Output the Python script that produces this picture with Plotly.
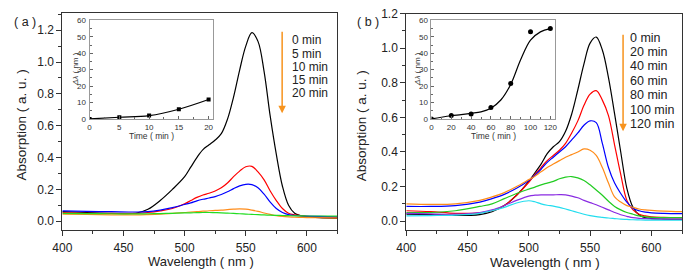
import plotly.graph_objects as go

W, H = 685, 275

# ---------------- data ----------------
wl_a = [400, 420, 440, 460, 470, 480, 490, 500, 505, 510, 515, 520, 525, 530, 535,
        540, 545, 550, 555, 560, 565, 570, 575, 580, 585, 590, 595, 600, 610, 625]
a_0min = [0.060, 0.055, 0.050, 0.050, 0.075, 0.13, 0.20, 0.28, 0.34, 0.40, 0.45, 0.48, 0.51, 0.55, 0.64,
          0.78, 0.95, 1.10, 1.185, 1.13, 0.94, 0.66, 0.42, 0.22, 0.10, 0.05, 0.035, 0.028, 0.022, 0.018]
a_5min = [0.055, 0.050, 0.050, 0.050, 0.055, 0.065, 0.08, 0.11, 0.13, 0.15, 0.165, 0.176, 0.19, 0.21, 0.24,
          0.28, 0.315, 0.342, 0.345, 0.31, 0.26, 0.19, 0.13, 0.08, 0.05, 0.04, 0.035, 0.03, 0.028, 0.025]
a_10min = [0.065, 0.062, 0.060, 0.058, 0.060, 0.070, 0.085, 0.105, 0.115, 0.128, 0.138, 0.146, 0.155, 0.168, 0.185,
           0.205, 0.222, 0.232, 0.23, 0.21, 0.17, 0.12, 0.08, 0.055, 0.042, 0.036, 0.033, 0.032, 0.030, 0.028]
a_15min = [0.045, 0.043, 0.040, 0.040, 0.042, 0.045, 0.05, 0.055, 0.058, 0.06, 0.063, 0.066, 0.068, 0.07, 0.073,
           0.076, 0.078, 0.076, 0.07, 0.062, 0.052, 0.043, 0.035, 0.03, 0.027, 0.025, 0.024, 0.023, 0.022, 0.020]
a_20min = [0.050, 0.048, 0.047, 0.046, 0.047, 0.048, 0.050, 0.052, 0.053, 0.054, 0.055, 0.055, 0.054, 0.053, 0.051,
           0.049, 0.047, 0.045, 0.043, 0.041, 0.040, 0.038, 0.037, 0.036, 0.035, 0.034, 0.034, 0.033, 0.033, 0.032]

wl_b = [400, 420, 440, 460, 470, 480, 490, 500, 505, 510, 515, 520, 525, 530, 535,
        540, 545, 550, 555, 560, 565, 570, 575, 580, 585, 590, 595, 600, 610, 625]
b_0min = [0.040, 0.038, 0.033, 0.038, 0.055, 0.09, 0.15, 0.23, 0.28, 0.33, 0.39, 0.43, 0.46, 0.52, 0.62,
          0.76, 0.91, 1.03, 1.065, 0.99, 0.83, 0.62, 0.40, 0.19, 0.08, 0.035, 0.02, 0.015, 0.012, 0.010]
b_20min = [0.060, 0.055, 0.045, 0.048, 0.06, 0.09, 0.15, 0.225, 0.27, 0.31, 0.35, 0.38, 0.41, 0.45, 0.51,
           0.58, 0.67, 0.735, 0.755, 0.70, 0.61, 0.44, 0.27, 0.12, 0.065, 0.04, 0.03, 0.025, 0.022, 0.020]
b_40min = [0.085, 0.085, 0.09, 0.11, 0.13, 0.155, 0.19, 0.235, 0.265, 0.30, 0.34, 0.37, 0.40, 0.43, 0.47,
           0.51, 0.555, 0.58, 0.57, 0.45, 0.31, 0.22, 0.16, 0.11, 0.075, 0.06, 0.052, 0.048, 0.045, 0.043]
b_60min = [0.10, 0.097, 0.10, 0.12, 0.14, 0.165, 0.20, 0.24, 0.26, 0.285, 0.31, 0.33, 0.35, 0.37, 0.385,
           0.40, 0.418, 0.41, 0.38, 0.31, 0.22, 0.14, 0.11, 0.09, 0.08, 0.07, 0.065, 0.062, 0.058, 0.055]
b_80min = [0.050, 0.050, 0.06, 0.085, 0.10, 0.13, 0.16, 0.185, 0.197, 0.21, 0.22, 0.23, 0.245, 0.255, 0.258,
           0.25, 0.235, 0.21, 0.18, 0.15, 0.115, 0.085, 0.065, 0.05, 0.04, 0.03, 0.025, 0.022, 0.020, 0.020]
b_100min = [0.045, 0.042, 0.040, 0.05, 0.065, 0.09, 0.12, 0.145, 0.15, 0.152, 0.152, 0.152, 0.153, 0.152, 0.145,
            0.135, 0.12, 0.107, 0.095, 0.08, 0.065, 0.05, 0.037, 0.028, 0.02, 0.016, 0.014, 0.013, 0.012, 0.012]
b_120min = [0.030, 0.032, 0.035, 0.045, 0.06, 0.08, 0.105, 0.118, 0.112, 0.10, 0.092, 0.087, 0.08, 0.07, 0.06,
            0.05, 0.04, 0.032, 0.026, 0.022, 0.018, 0.015, 0.012, 0.010, 0.008, 0.007, 0.006, 0.006, 0.005, 0.005]

labels_a = ["0 min", "5 min", "10 min", "15 min", "20 min"]
labels_b = ["0 min", "20 min", "40 min", "60 min", "80 min", "100 min", "120 min"]

ins_a_t = [0, 5, 10, 15, 20]
ins_a_dl = [0, 1.0, 2.0, 5.9, 11.8]
ins_b_t = [0, 20, 40, 60, 80, 100, 120]
ins_b_dl = [0, 2.0, 3.0, 6.9, 21.6, 53.1, 55.1]
fit_b_t = [0, 10, 20, 30, 40, 50, 60, 70, 80, 90, 100, 110, 120]
fit_b_dl = [0, 1.0, 1.9, 2.6, 3.4, 4.3, 6.5, 11.5, 21.0, 36.0, 48.0, 53.0, 55.0]

colors_a = ["#000000", "#ff0000", "#0000ff", "#ff8c1a", "#22dd22"]
colors_b = ["#000000", "#ff0000", "#0000ff", "#ff8c1a", "#22cc22", "#8a2be2", "#22ddee"]

FONT = "Liberation Sans, Arial, sans-serif"

def px_x(p):
    return p / W

def px_y(p):
    return 1 - p / H

fig = go.Figure()

for ys, c in zip([a_0min, a_5min, a_10min, a_15min, a_20min], colors_a):
    fig.add_trace(go.Scatter(x=wl_a, y=ys, mode="lines", line=dict(color=c, width=1.2, shape="spline"),
                             xaxis="x", yaxis="y", showlegend=False))
for ys, c in zip([b_0min, b_20min, b_40min, b_60min, b_80min, b_100min, b_120min], colors_b):
    fig.add_trace(go.Scatter(x=wl_b, y=ys, mode="lines", line=dict(color=c, width=1.2, shape="spline"),
                             xaxis="x2", yaxis="y2", showlegend=False))

# insets
fig.add_trace(go.Scatter(x=ins_a_t, y=ins_a_dl, mode="lines+markers",
                         line=dict(color="black", width=1.2, shape="spline"),
                         marker=dict(symbol="square", size=4, color="black"),
                         xaxis="x3", yaxis="y3", showlegend=False))
fig.add_trace(go.Scatter(x=fit_b_t, y=fit_b_dl, mode="lines",
                         line=dict(color="black", width=1.2, shape="spline"),
                         xaxis="x4", yaxis="y4", showlegend=False))
fig.add_trace(go.Scatter(x=ins_b_t, y=ins_b_dl, mode="markers",
                         marker=dict(symbol="circle", size=5, color="black"),
                         xaxis="x4", yaxis="y4", showlegend=False))

main_ax = dict(showline=True, linecolor="#333", linewidth=1, mirror=True, ticks="outside",
               ticklen=5, tickcolor="#333", showgrid=False, zeroline=False,
               tickfont=dict(family=FONT, size=12, color="#222"))
ins_ax = dict(showline=True, linecolor="#999", linewidth=1, mirror=True, ticks="inside",
              ticklen=3, tickcolor="#666", showgrid=False, zeroline=False, ticklabelstandoff=1,
              tickfont=dict(family=FONT, size=8, color="#333"))

fig.update_layout(
    width=W, height=H, margin=dict(l=0, r=0, t=0, b=0),
    paper_bgcolor="white", plot_bgcolor="white",
    xaxis=dict(main_ax, domain=[px_x(53.3), px_x(333.3)], range=[400, 625], dtick=50, anchor="y",
               ticklabelstandoff=1,
               minor=dict(ticks="outside", ticklen=3, dtick=25, tickcolor="#333")),
    yaxis=dict(main_ax, domain=[px_y(233.5), px_y(6)], range=[-0.057, 1.31], dtick=0.2, tickformat=".1f",
               anchor="x", minor=dict(ticks="outside", ticklen=3, dtick=0.1, tickcolor="#333")),
    xaxis2=dict(main_ax, domain=[px_x(403.3), px_x(684)], range=[400, 625], dtick=50, anchor="y2",
                ticklabelstandoff=1,
                minor=dict(ticks="outside", ticklen=3, dtick=25, tickcolor="#333")),
    yaxis2=dict(main_ax, domain=[px_y(233.3), px_y(7)], range=[-0.052, 1.2], dtick=0.2, tickformat=".1f",
                anchor="x2", minor=dict(ticks="outside", ticklen=3, dtick=0.1, tickcolor="#333")),
    xaxis3=dict(ins_ax, domain=[px_x(81), px_x(207)], range=[0, 20.8], dtick=5, anchor="y3",
                minor=dict(ticks="inside", ticklen=2, dtick=2.5, tickcolor="#666")),
    yaxis3=dict(ins_ax, domain=[px_y(117), px_y(14)], range=[0, 60], dtick=10, anchor="x3",
                minor=dict(ticks="inside", ticklen=2, dtick=5, tickcolor="#666")),
    xaxis4=dict(ins_ax, domain=[px_x(429), px_x(555)], range=[0, 125], dtick=20, anchor="y4",
                minor=dict(ticks="inside", ticklen=2, dtick=10, tickcolor="#666")),
    yaxis4=dict(ins_ax, domain=[px_y(117), px_y(14)], range=[0, 60], dtick=10, anchor="x4",
                minor=dict(ticks="inside", ticklen=2, dtick=5, tickcolor="#666")),
)

ann = []
def text(x, y, s, size, angle=0, xanchor="center", color="#222"):
    ann.append(dict(x=px_x(x), y=px_y(y), xref="paper", yref="paper", text=s, showarrow=False,
                    textangle=angle, xanchor=xanchor, yanchor="middle", borderpad=0,
                    font=dict(family=FONT, size=size, color=color)))

# axis titles
text(12, 123, "Absorption ( a. u. )", 13.5, angle=-90)
text(358, 124, "Absorption ( a. u. )", 13.5, angle=-90)
text(194, 266.5, "Wavelength ( nm )", 13)
text(545, 267, "Wavelength ( nm )", 13.5)
text(15, 16, "( a )", 12.5)
text(364, 16, "( b )", 12.5)
# inset titles
text(144, 135, "Time ( min )", 8.5, color="#333")
text(492, 135, "Time ( min )", 8.5, color="#333")
text(66, 65, "<i>Δλ</i> ( nm )", 8, angle=-90, color="#333")
text(414, 65, "<i>Δλ</i> ( nm )", 8, angle=-90, color="#333")

# legend texts
for i, s in enumerate(labels_a):
    text(286, 35 + i * 13.75, s, 12, xanchor="left")
for i, s in enumerate(labels_b):
    text(630, 32 + i * 15.1, s, 12.5, xanchor="left")

# arrows
for xa, y0, y1 in [(277, 28, 111), (624, 32, 130)]:
    ann.append(dict(x=px_x(xa), y=px_y(y1), ax=0, ay=-(y1 - y0), xref="paper", yref="paper",
                    axref="pixel", ayref="pixel", showarrow=True, arrowhead=2, arrowsize=1,
                    arrowwidth=1.5, arrowcolor="#f7931e", text=""))

fig.update_layout(annotations=ann)
fig.write_html("out.html", config={"displayModeBar": False},
               post_script="document.body.style.margin='0';document.body.style.overflow='hidden';")
